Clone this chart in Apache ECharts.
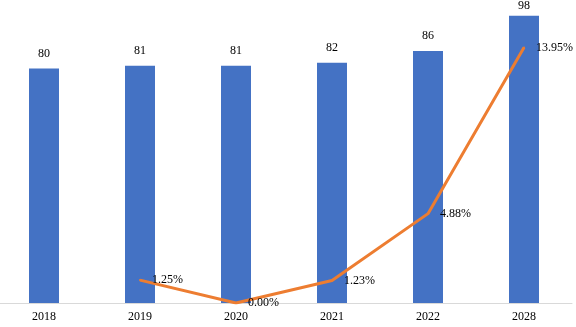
<!DOCTYPE html>
<html>
<head>
<meta charset="utf-8">
<script src="https://cdn.jsdelivr.net/npm/echarts@6/dist/echarts.min.js"></script>
<style>html,body{margin:0;padding:0;background:#fff;overflow:hidden;}#c{width:580px;height:327px;margin-left:-4px;}</style>
</head>
<body>
<div id="c"></div>
<script>
const categories = ['2018', '2019', '2020', '2021', '2022', '2028'];
const barValues = [80, 81, 81, 82, 86, 98];
const growthValues = [null, 1.25, 0.00, 1.23, 4.88, 13.95];

const chart = echarts.init(document.getElementById('c'));
const font = '"Liberation Serif", "Times New Roman", serif';
const barData = barValues.map((v, i) => i === barValues.length - 1 ? { value: v, label: { distance: 4 } } : v);
chart.setOption({
  animation: false,
  backgroundColor: '#ffffff',
  grid: { left: 0, right: 4, top: 10, bottom: 24, containLabel: false },
  xAxis: {
    type: 'category',
    data: categories,
    axisLine: { show: true, lineStyle: { color: '#d9d9d9', width: 1 } },
    axisTick: { show: false },
    axisLabel: { color: '#000', fontFamily: font, fontSize: 12, margin: 8 }
  },
  yAxis: [
    { type: 'value', min: 0, max: 100, show: false, splitLine: { show: false } },
    { type: 'value', min: 0, max: 16, show: false, splitLine: { show: false } }
  ],
  series: [
    {
      type: 'bar',
      data: barData,
      barWidth: 30,
      itemStyle: { color: '#4472C4' },
      label: { show: true, position: 'top', distance: 9, color: '#000', fontFamily: font, fontSize: 12 }
    },
    {
      type: 'line',
      yAxisIndex: 1,
      data: growthValues,
      showSymbol: true,
      showAllSymbol: true,
      symbol: 'circle',
      symbolSize: 2,
      lineStyle: { color: '#ED7D31', width: 3 },
      itemStyle: { color: '#ED7D31' },
      label: {
        show: true, position: 'right', distance: 11, color: '#000', fontFamily: font, fontSize: 12,
        formatter: p => Number(p.value).toFixed(2) + '%'
      },
      z: 3
    }
  ]
});
</script>
</body>
</html>
